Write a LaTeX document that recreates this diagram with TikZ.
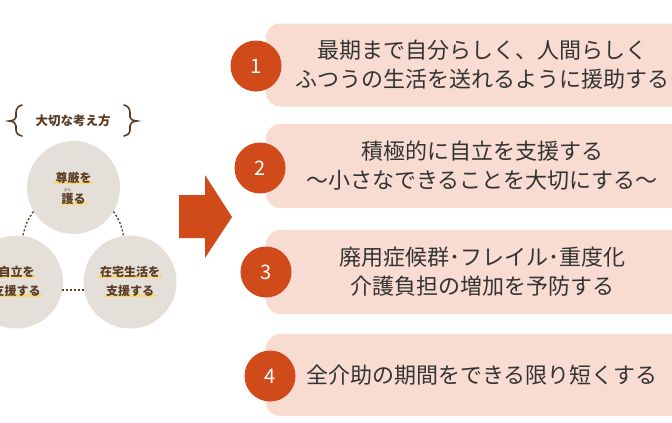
\documentclass[tikz,border=0pt]{standalone}
\usepackage{fontspec}
\newfontfamily\jp{Noto Sans CJK JP}
\usetikzlibrary{calc}
\pgfdeclarelayer{bg}
\pgfdeclarelayer{hl}
\pgfsetlayers{bg,hl,main}
\definecolor{orng}{HTML}{D04A1A}
\definecolor{pinkbox}{HTML}{F9DCD1}
\definecolor{txt}{HTML}{333333}
\definecolor{brn}{HTML}{5A3B22}
\definecolor{grayc}{HTML}{E4E0D9}
\definecolor{hly}{HTML}{F7D77C}
\tikzset{
  pbox/.style={rectangle, rounded corners=14pt, fill=pinkbox, minimum width=432pt, minimum height=83pt, inner sep=0pt, align=center, text=txt, font=\jp\fontsize{22}{29}\selectfont},
  numc/.style={circle, fill=orng, minimum size=51pt, inner sep=0pt, text=white, font=\jp\fontsize{20}{20}\selectfont},
  gcirc/.style={circle, fill=grayc, minimum size=93pt, inner sep=0pt},
  ltext/.style={inner sep=0pt, text=brn, font=\jp\bfseries\fontsize{12}{12}\selectfont},
  ttext/.style={inner sep=0pt, text=brn, font=\jp\bfseries\fontsize{12.5}{12.5}\selectfont},
  dotc/.style={brn, line width=1.3pt, dash pattern=on 2pt off 2pt},
  bracec/.style={brn, line width=1.6pt, line cap=round},
}
\begin{document}
\begin{tikzpicture}[x=1pt,y=-1pt]
\useasboundingbox (0,0) rectangle (672,423);
\clip (0,0) rectangle (672,423);

% left: guiding concept
\node[ttext] (ttl) at (73,121) {大切な考え方};
\draw[bracec] (22,105) .. controls (15,107) and (16,112) .. (16,117) .. controls (16,119) and (14,120.5) .. (9,121) .. controls (14,121.5) and (16,123) .. (16,126) .. controls (16,131) and (15,134) .. (22,136);
\draw[bracec] (124,105) .. controls (131,107) and (130,112) .. (130,117) .. controls (130,119) and (132,120.5) .. (137,121) .. controls (132,121.5) and (130,123) .. (130,126) .. controls (130,131) and (131,134) .. (124,136);

\begin{pgfonlayer}{bg}
\node[gcirc] (c1) at (73.5,187.5) {};
\node[gcirc] (c2) at (16.5,282) {};
\node[gcirc] (c3) at (130,282) {};
\end{pgfonlayer}

\draw[dotc] (c1.211) to[bend right=12] (c2.82);
\draw[dotc] (c1.329) to[bend left=12] (c3.98);
\draw[dotc] (c2.350) -- (c3.190);

\node[ltext] (t1a) at (73.5,178) {尊厳を};
\node[ltext] (t1b) at (73.5,199) {護る};
\node[inner sep=0pt, text=brn, font=\jp\fontsize{3.5}{3.5}\selectfont] (ruby) at (67.5,190.5) {まも};
\node[ltext] (t2a) at (16.5,272) {自立を};
\node[ltext] (t2b) at (16.5,291) {支援する};
\node[ltext] (t3a) at (130,272) {在宅生活を};
\node[ltext] (t3b) at (130,291) {支援する};

\begin{pgfonlayer}{hl}
\foreach \n in {t1a,t1b,t2a,t2b,t3a,t3b}{
  \fill[hly] ([xshift=-1.5pt,yshift=-0.5pt]\n.south west) rectangle ([xshift=1.5pt,yshift=2.5pt]\n.south east);
}
\end{pgfonlayer}

% arrow
\fill[orng] (179,195) -- (205,195) -- (205,175) -- (232,217) -- (205,258) -- (205,238) -- (179,238) -- cycle;

% right: boxes
\node[pbox] (b1) at (482,65) {最期まで自分らしく、人間らしく\\ふつうの生活を送れるように援助する};
\node[pbox, minimum height=84pt] (b2) at (482,166) {積極的に自立を支援する\\～小さなできることを大切にする～};
\node[pbox, minimum height=84pt] (b3) at (482,272) {廃用症候群･フレイル･重度化\\介護負担の増加を予防する};
\node[pbox, minimum height=82pt] (b4) at (482,375) {全介助の期間をできる限り短くする};

\node[numc] (n1) at (256,66) {1};
\node[numc] (n2) at (260,168) {2};
\node[numc] (n3) at (266,272) {3};
\node[numc] (n4) at (270,376) {4};
\end{tikzpicture}
\end{document}
